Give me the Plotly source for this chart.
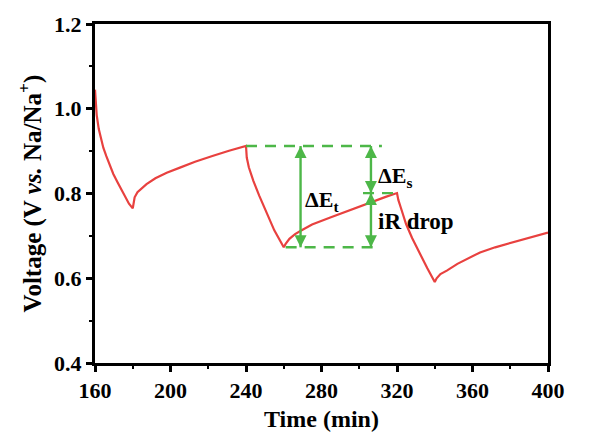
import plotly.graph_objects as go

# Galvanostatic intermittent titration profile (time in min, voltage in V vs. Na/Na+)
time_min = [
    160, 160.3, 160.9, 162, 163, 164.4, 166, 168, 169.7, 172, 175, 178, 180,
    180.5, 181, 182.5, 185, 187.3, 192, 198, 205, 213, 222.6, 231, 240,
    240.4, 241.5, 243.9, 247, 251, 255, 260,
    261, 263, 266, 269, 275, 285, 295, 306, 314, 320,
    320.7, 322, 324.8, 328, 332.2, 336, 340,
    341, 343, 346.4, 352, 358, 364, 372, 382, 391, 400,
]
voltage = [
    1.045, 1.010, 0.985, 0.952, 0.930, 0.908, 0.888, 0.865, 0.846, 0.826, 0.801, 0.776, 0.765,
    0.781, 0.791, 0.803, 0.814, 0.822, 0.836, 0.849, 0.861, 0.875, 0.889, 0.901, 0.912,
    0.885, 0.862, 0.830, 0.795, 0.752, 0.713, 0.673,
    0.681, 0.693, 0.704, 0.712, 0.727, 0.744, 0.761, 0.779, 0.792, 0.801,
    0.785, 0.767, 0.728, 0.695, 0.657, 0.624, 0.591,
    0.600, 0.610, 0.618, 0.634, 0.648, 0.661, 0.673, 0.685, 0.697, 0.708,
]

x_ticks = [160, 200, 240, 280, 320, 360, 400]
y_ticks = [0.4, 0.6, 0.8, 1.0, 1.2]

# Reference levels used for the overpotential annotations
v_top = 0.912      # voltage at end of relaxation (t = 240)
v_bottom = 0.673   # voltage at end of pulse (t = 260)
v_mid = 0.801      # voltage at end of next relaxation (t = 320)

RED = "#E8413F"
GREEN = "#4DB748"
FONT = "Times New Roman, Liberation Serif, serif"

fig = go.Figure()
fig.add_trace(go.Scatter(
    x=time_min, y=voltage, mode="lines",
    line=dict(color=RED, width=2.2), showlegend=False, hoverinfo="skip",
))

dash = dict(color=GREEN, width=2.4, dash="11px,8px")
fig.add_shape(type="line", x0=240, x1=312, y0=v_top, y1=v_top, line=dash)
fig.add_shape(type="line", x0=261, x1=308, y0=v_bottom, y1=v_bottom, line=dash)
fig.add_shape(type="line", x0=302, x1=320, y0=v_mid, y1=v_mid, line=dash)


def double_arrow(x, y_low, y_high):
    # shaft
    fig.add_trace(go.Scatter(
        x=[x, x], y=[y_low, y_high], mode="lines",
        line=dict(color=GREEN, width=2.4), showlegend=False, hoverinfo="skip",
    ))
    # heads, tips placed on the end points
    fig.add_trace(go.Scatter(
        x=[x, x], y=[y_high, y_low], mode="markers",
        marker=dict(symbol=["arrow-up", "arrow-down"], size=12, color=GREEN,
                    line=dict(width=0)),
        showlegend=False, hoverinfo="skip",
    ))


double_arrow(268.9, v_bottom, v_top)
double_arrow(306.2, v_mid, v_top)
double_arrow(306.2, v_bottom, v_mid)

label_font = dict(family=FONT, size=22, color="black")
fig.add_annotation(x=270.2, y=0.782, text="<b>ΔE<sub>t</sub></b>", showarrow=False,
                   xanchor="left", yanchor="middle", font=label_font)
fig.add_annotation(x=308.8, y=0.838, text="<b>ΔE<sub>s</sub></b>", showarrow=False,
                   xanchor="left", yanchor="middle", font=label_font)
fig.add_annotation(x=308.8, y=0.733, text="<b>iR drop</b>", showarrow=False,
                   xanchor="left", yanchor="middle", font=dict(family=FONT, size=23, color="black"))

axis_common = dict(
    showline=True, linecolor="black", linewidth=3, mirror=True,
    ticks="outside", ticklen=6, tickwidth=2.5, tickcolor="black",
    showgrid=False, zeroline=False,
    tickfont=dict(family=FONT, size=22, color="black"),
)

fig.update_xaxes(
    range=[160, 400], tickvals=x_ticks, ticktext=[f"<b>{v}</b>" for v in x_ticks],
    minor=dict(ticks="outside", ticklen=3, tickwidth=2, tickcolor="black", dtick=20),
    title=dict(text="<b>Time (min)</b>", font=dict(family=FONT, size=24, color="black"), standoff=8),
    **axis_common,
)
fig.update_yaxes(
    range=[0.4, 1.2], tickvals=y_ticks, ticktext=[f"<b>{v:.1f}</b>" for v in y_ticks],
    minor=dict(ticks="outside", ticklen=3, tickwidth=2, tickcolor="black", dtick=0.1),
    title=dict(text="<b>Voltage (V <i>vs.</i> Na/Na<sup>+</sup>)</b>",
               font=dict(family=FONT, size=25, color="black"), standoff=6),
    **axis_common,
)

fig.update_layout(
    width=600, height=447,
    margin=dict(l=95, r=52, t=22, b=84),
    paper_bgcolor="white", plot_bgcolor="white",
)

fig.write_html("out.html")
